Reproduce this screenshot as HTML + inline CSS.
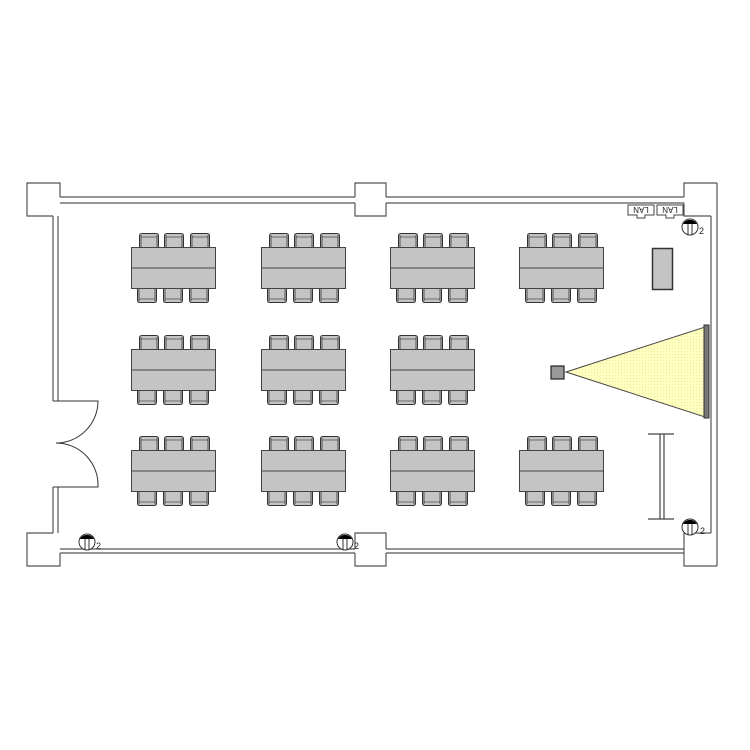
<!DOCTYPE html>
<html><head><meta charset="utf-8"><style>html,body{margin:0;padding:0;background:#fff}svg{display:block}</style></head>
<body>
<svg width="750" height="750" viewBox="0 0 750 750" xmlns="http://www.w3.org/2000/svg">
<defs>
<pattern id="dots" width="3" height="3" patternUnits="userSpaceOnUse"><rect width="3" height="3" fill="#ffffc0"/><rect width="1" height="1" fill="#e8e8a0"/></pattern>
<g id="chT"><path d="M0.5,14 L0.5,3 Q0.5,0.5 3,0.5 L17,0.5 Q19.5,0.5 19.5,3 L19.5,14" fill="#c4c4c4" stroke="#333" stroke-width="1"/><line x1="2" y1="4" x2="18" y2="4" stroke="#555" stroke-width="0.8"/><line x1="2" y1="2" x2="2" y2="14" stroke="#333" stroke-width="0.8"/><line x1="18" y1="2" x2="18" y2="14" stroke="#333" stroke-width="0.8"/></g>
<g id="chB"><path d="M0.5,0 L0.5,11 Q0.5,13.5 3,13.5 L17,13.5 Q19.5,13.5 19.5,11 L19.5,0" fill="#c4c4c4" stroke="#333" stroke-width="1"/><line x1="2" y1="10" x2="18" y2="10" stroke="#555" stroke-width="0.8"/><line x1="2" y1="0" x2="2" y2="12" stroke="#333" stroke-width="0.8"/><line x1="18" y1="0" x2="18" y2="12" stroke="#333" stroke-width="0.8"/></g>
<g id="tbl">
<use href="#chT" x="8" y="-14"/><use href="#chT" x="33" y="-14"/><use href="#chT" x="59" y="-14"/>
<use href="#chB" x="6" y="42"/><use href="#chB" x="32" y="42"/><use href="#chB" x="58" y="42"/>
<rect x="0.5" y="0.5" width="84" height="41" fill="#c4c4c4" stroke="#444" stroke-width="1"/>
<line x1="0.5" y1="21" x2="84.5" y2="21" stroke="#444" stroke-width="1"/>
</g>
<g id="outlet"><circle cx="0" cy="0" r="8" fill="#fff" stroke="#333"/><path d="M-7,-3 A8,8 0 0 1 7,-3 Z" fill="#000"/><line x1="-2" y1="-3" x2="-2" y2="8" stroke="#333"/><line x1="2" y1="-3" x2="2" y2="8" stroke="#333"/></g>
</defs>
<g fill="none" stroke="#555" stroke-width="1.2">
<line x1="60" y1="197" x2="355" y2="197"/><line x1="60" y1="203" x2="355" y2="203"/>
<line x1="386" y1="197" x2="684" y2="197"/><line x1="386" y1="203" x2="684" y2="203"/>
<line x1="60" y1="549" x2="355" y2="549"/><line x1="60" y1="553" x2="355" y2="553"/>
<line x1="386" y1="549" x2="684" y2="549"/><line x1="386" y1="553" x2="684" y2="553"/>
<line x1="53" y1="216" x2="53" y2="401"/><line x1="58" y1="216" x2="58" y2="401"/>
<line x1="53" y1="487" x2="53" y2="533"/><line x1="58" y1="487" x2="58" y2="533"/>
<line x1="711" y1="216" x2="711" y2="533"/><line x1="717" y1="183" x2="717" y2="566"/>
<path d="M60,197 L60,183 L27,183 L27,216 L53,216"/>
<path d="M355,197 L355,183 L386,183 L386,197 M355,203 L355,216 L386,216 L386,203"/>
<path d="M684,197 L684,183 L717,183 M684,203 L684,216 L711,216"/>
<path d="M53,533 L27,533 L27,566 L60,566 L60,553"/>
<path d="M355,549 L355,533 L386,533 L386,549 M355,553 L355,566 L386,566 L386,553"/>
<path d="M711,533 L684,533 L684,566 L717,566 M684,549 L684,553"/>
<path d="M53,401 L98,401 A42,42 0 0 1 56,443 A42,42 0 0 1 98,487 L53,487" stroke="#333" stroke-width="1"/>
</g>
<use href="#tbl" x="131" y="247"/><use href="#tbl" x="261" y="247"/><use href="#tbl" x="390" y="247"/><use href="#tbl" x="519" y="247"/>
<use href="#tbl" x="131" y="349"/><use href="#tbl" x="261" y="349"/><use href="#tbl" x="390" y="349"/>
<use href="#tbl" x="131" y="450"/><use href="#tbl" x="261" y="450"/><use href="#tbl" x="390" y="450"/><use href="#tbl" x="519" y="450"/>
<rect x="652.5" y="248.5" width="20" height="41" fill="#c4c4c4" stroke="#333" stroke-width="1.5"/>
<polygon points="566,372 705,327 705,417" fill="url(#dots)" stroke="#444" stroke-width="1"/>
<rect x="704" y="325" width="5" height="93" fill="#777" stroke="#333" stroke-width="1"/>
<rect x="551" y="366" width="13" height="13" fill="#999" stroke="#222" stroke-width="1.2"/>
<g stroke="#444" stroke-width="1.2"><line x1="648" y1="434" x2="674" y2="434"/><line x1="648" y1="519" x2="674" y2="519"/><line x1="660" y1="434" x2="660" y2="519"/><line x1="664" y1="434" x2="664" y2="519"/></g>
<g fill="#fff" stroke="#444" stroke-width="1">
<path d="M628,205 L654,205 L654,215 L645,215 L645,218 L637,218 L637,215 L628,215 Z"/>
<path d="M657,205 L683,205 L683,215 L674,215 L674,218 L666,218 L666,215 L657,215 Z"/>
</g>
<text x="641" y="209" transform="rotate(180 641 209)" font-family="Liberation Sans, sans-serif" font-size="8" text-anchor="middle" dominant-baseline="middle" fill="#222">LAN</text>
<text x="670" y="209" transform="rotate(180 670 209)" font-family="Liberation Sans, sans-serif" font-size="8" text-anchor="middle" dominant-baseline="middle" fill="#222">LAN</text>
<use href="#outlet" x="690" y="227"/><use href="#outlet" x="87" y="542"/><use href="#outlet" x="345" y="542"/><use href="#outlet" x="690" y="527"/>
<g font-family="Liberation Sans, sans-serif" font-size="9" fill="#222">
<text x="699" y="234">2</text><text x="96" y="549">2</text><text x="354" y="549">2</text><text x="700" y="534">2</text>
</g>
</svg>
</body></html>
